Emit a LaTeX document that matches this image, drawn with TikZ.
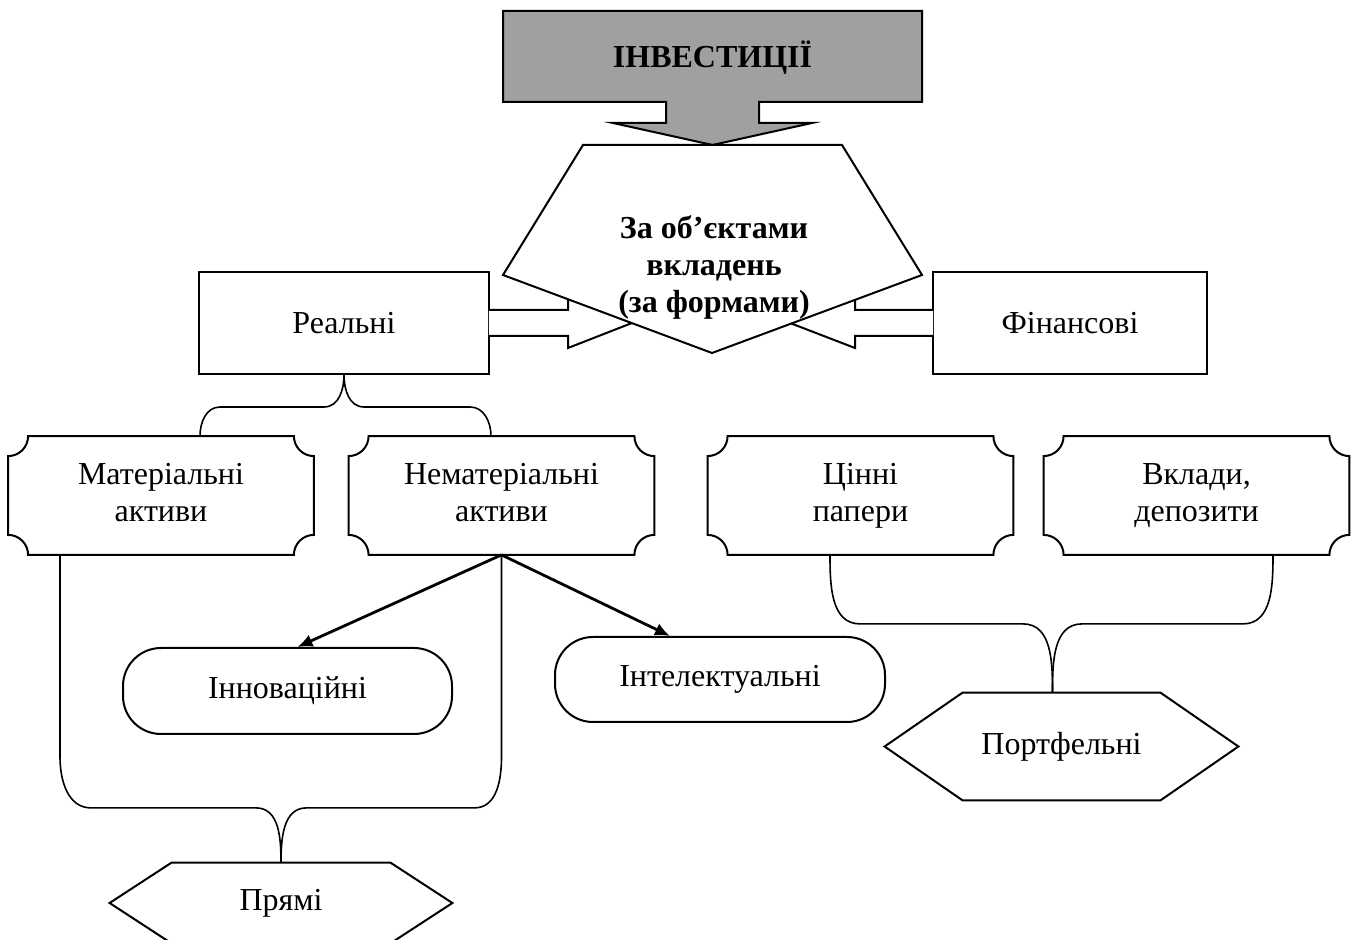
\documentclass[tikz,border=0pt]{standalone}
\usepackage{fontspec}
\setmainfont{Liberation Serif}
\usetikzlibrary{calc,arrows.meta}
\definecolor{invgray}{RGB}{160,160,160}
\tikzset{
	txt/.style = { font = \fontsize{16pt}{18.5pt}\selectfont, align = center, inner sep = 0pt },
	plainbox/.style = { txt, draw, line width = 1pt, minimum height = 51pt },
	ticketbox/.style = { txt, minimum width = 152.5pt, minimum height = 59pt },
	pillbox/.style = { txt, draw, line width = 1pt, rounded corners = 19pt, minimum width = 164.5pt, minimum height = 43pt },
	brace/.style = { line width = 0.8pt },
	fwd/.style = { line width = 1.4pt, -{Latex[length=7.5pt,width=6.5pt]} }
}
% рамка з увігнутими кутами навколо вузла
\newcommand{\ticket}[1]{%
	\draw [ line width = 1pt ] ([xshift=10pt]#1.north west) -- ([xshift=-10pt]#1.north east)
		arc [ start angle = 180, end angle = 270, radius = 10pt ] -- ([yshift=10pt]#1.south east)
		arc [ start angle = 90, end angle = 180, radius = 10pt ] -- ([xshift=10pt]#1.south west)
		arc [ start angle = 0, end angle = 90, radius = 10pt ] -- ([yshift=-10pt]#1.north west)
		arc [ start angle = 270, end angle = 360, radius = 10pt ] -- cycle;}
% шестикутник навколо вузла
\newcommand{\hexa}[2]{%
	\draw [ line width = 1pt ] (#1.west) -- ([xshift=#2]#1.north west) -- ([xshift=-#2]#1.north east)
		-- (#1.east) -- ([xshift=-#2]#1.south east) -- ([xshift=#2]#1.south west) -- cycle;}
\begin{document}
\begin{tikzpicture}[ x = 0.5pt, y = -0.5pt ]
		\useasboundingbox ( 0, 0 ) rectangle ( 1356, 940 );

		% інвестиції
		\draw [ line width = 1pt, fill = invgray ] ( 503, 11 ) -- ( 922, 11 ) -- ( 922, 102 ) -- ( 759, 102 ) -- ( 759, 123 )
			-- ( 812, 123 ) -- ( 712.5, 145 ) -- ( 613, 123 ) -- ( 666, 123 ) -- ( 666, 102 ) -- ( 503, 102 ) -- cycle;
		\node [ txt, font = \fontsize{16pt}{18.5pt}\selectfont\bfseries ] (inv) at ( 712.5, 58 ) {ІНВЕСТИЦІЇ};

		% реальні та фінансові
		\node [ plainbox, minimum width = 145pt ] (real) at ( 344, 323 ) {Реальні};
		\node [ plainbox, minimum width = 137pt ] (fin) at ( 1070, 323 ) {Фінансові};
		\draw [ line width = 1pt, fill = white ] ([xshift=-0.6pt,yshift=6.5pt]real.east) -- ( 568, 310 ) -- ( 568, 298 )
			-- ( 632, 323 ) -- ( 568, 348 ) -- ( 568, 336 ) -- ([xshift=-0.6pt,yshift=-6.5pt]real.east);
		\draw [ line width = 1pt, fill = white ] ([xshift=0.6pt,yshift=6.5pt]fin.west) -- ( 855, 310 ) -- ( 855, 298 )
			-- ( 790, 323 ) -- ( 855, 348 ) -- ( 855, 336 ) -- ([xshift=0.6pt,yshift=-6.5pt]fin.west);

		% за об'єктами вкладень
		\draw [ line width = 1pt, fill = white ] ( 583, 145 ) -- ( 842, 145 ) -- ( 922, 275 ) -- ( 712, 353 ) -- ( 503, 275 ) -- cycle;
		\node [ txt, font = \fontsize{16pt}{18.5pt}\selectfont\bfseries ] (forms) at ( 714, 268 ) {За об’єктами\strut\\вкладень\strut\\(за формами)\strut};

		% активи
		\node [ ticketbox ] (mat) at ( 161, 495.5 ) {Матеріальні\strut\\активи\strut};
		\node [ ticketbox ] (nonmat) at ( 501.5, 495.5 ) {Нематеріальні\strut\\активи\strut};
		\node [ ticketbox ] (cinni) at ( 860.5, 495.5 ) {Цінні\strut\\папери\strut};
		\node [ ticketbox ] (vklady) at ( 1196.5, 495.5 ) {Вклади,\strut\\депозити\strut};
		\ticket{mat}
		\ticket{nonmat}
		\ticket{cinni}
		\ticket{vklady}

		\draw [ brace ] (real.south) to [ out = -90, in = 0 ] ++( -20, 32 ) -- ++( -104, 0 )
			to [ out = 180, in = 90 ] ( $ (mat.north) + (39,0) $ );
		\draw [ brace ] (real.south) to [ out = -90, in = 180 ] ++( 20, 32 ) -- ++( 106, 0 )
			to [ out = 0, in = 90 ] ( $ (nonmat.north) + (-10.5,0) $ );

		% інноваційні та інтелектуальні
		\node [ pillbox ] (innov) at ( 287.5, 691 ) {Інноваційні};
		\node [ pillbox, minimum width = 165pt, minimum height = 42.5pt ] (intel) at ( 720, 679.5 ) {Інтелектуальні};
		\draw [ fwd ] (nonmat.south) -- ( $ (innov.north) + (10,0) $ );
		\draw [ fwd ] (nonmat.south) -- ( $ (intel.north) + (-50,0) $ );

		% прямі
		\node [ txt, minimum width = 171pt, minimum height = 40pt ] (pryami) at ( 281, 903 ) {Прямі};
		\hexa{pryami}{31pt}
		\draw [ brace ] ( $ (mat.south) + (-101,0) $ ) -- ++( 0, 202 ) to [ out = -90, in = 180 ] ++( 31, 51 ) -- ++( 165, 0 )
			to [ out = 0, in = 90 ] (pryami.north);
		\draw [ brace ] (nonmat.south) -- ++( 0, 202 ) to [ out = -90, in = 0 ] ++( -27, 51 ) -- ++( -168, 0 )
			to [ out = 180, in = 90 ] (pryami.north);

		% портфельні
		\node [ txt, minimum width = 176.5pt, minimum height = 53.5pt ] (portf) at ( 1061.5, 746.5 ) {Портфельні};
		\hexa{portf}{39pt}
		\draw [ brace ] ( $ (cinni.south) + (-30.5,0) $ ) to [ out = -90, in = 180 ] ++( 30, 69 ) -- ++( 163, 0 )
			to [ out = 0, in = 90 ] ( $ (portf.north) + (-9,0) $ );
		\draw [ brace ] ( $ (vklady.south) + (76.5,0) $ ) to [ out = -90, in = 0 ] ++( -30, 69 ) -- ++( -161, 0 )
			to [ out = 180, in = 90 ] ( $ (portf.north) + (-9,0) $ );
	\end{tikzpicture}
\end{document}
